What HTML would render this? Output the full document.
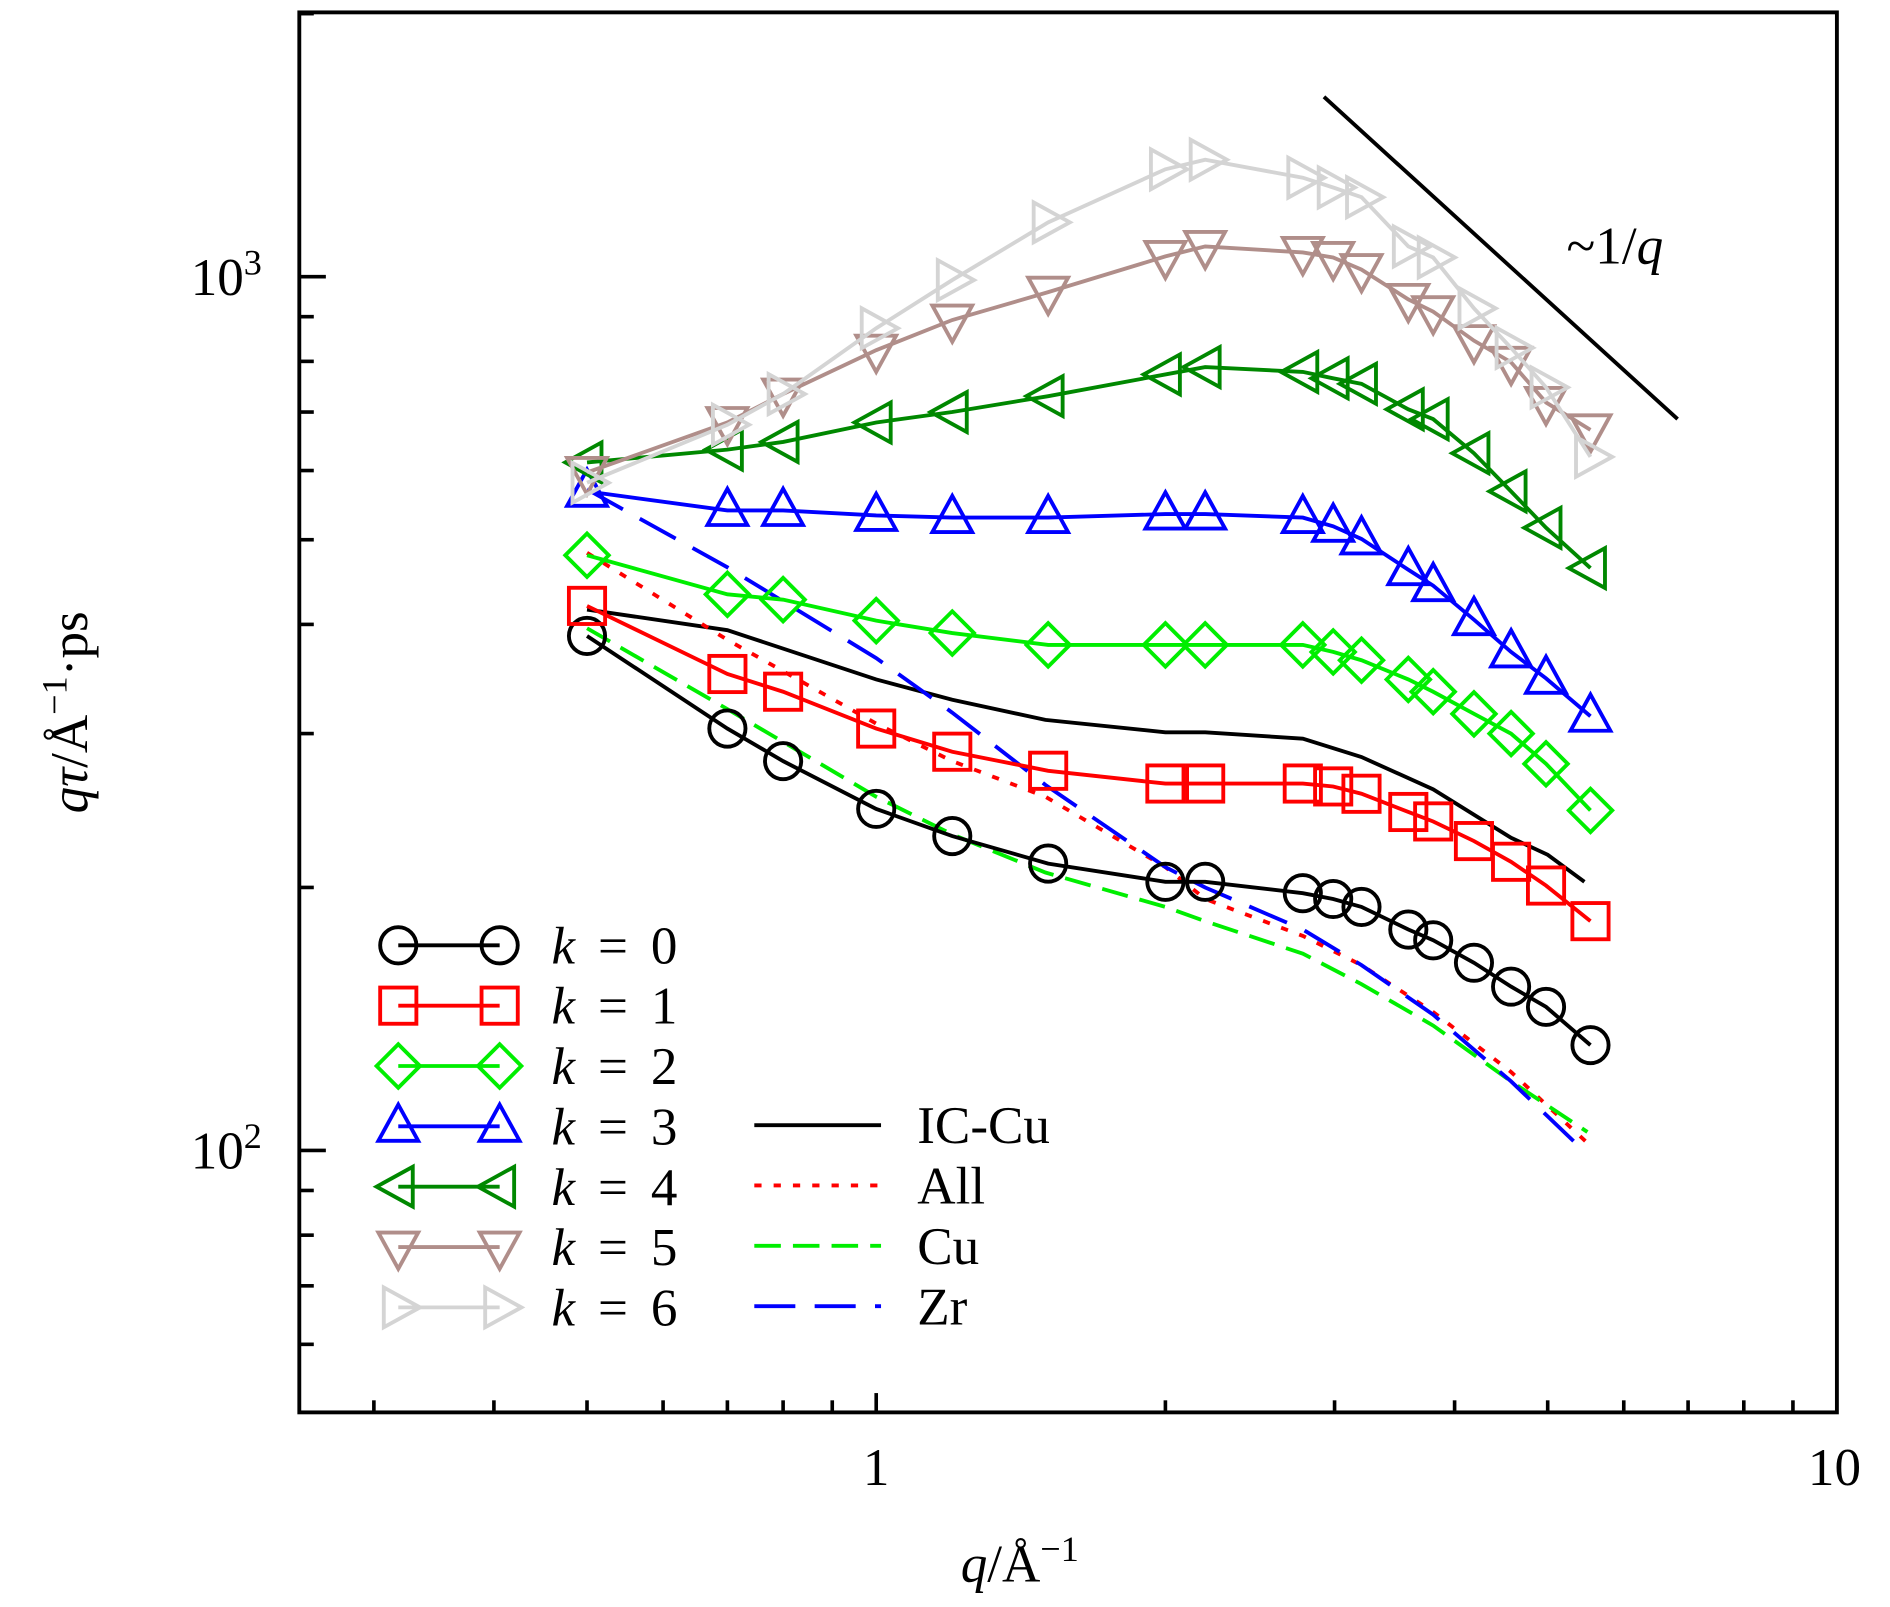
<!DOCTYPE html>
<html><head><meta charset="utf-8"><style>
html,body{margin:0;padding:0;background:#fff}
svg{display:block}
text{font-family:"Liberation Serif",serif;fill:#000}
</style></head><body>
<svg id="chart" width="1890" height="1607" viewBox="0 0 1566 1331" xmlns="http://www.w3.org/2000/svg">
<rect x="0" y="0" width="1566" height="1331" fill="#fff"/>
<g id="ticks"></g>
<g id="series"></g>
<rect x="248" y="10" width="1274" height="1160" fill="none" stroke="#000" stroke-width="3.2"/>
<line x1="1097" y1="80" x2="1390" y2="347" stroke="#000" stroke-width="3.2"/>
<text x="1298" y="218" font-size="44">~1/<tspan font-style="italic">q</tspan></text>
<text x="158" y="244" font-size="44">10<tspan dy="-17" font-size="30">3</tspan></text>
<text x="158" y="968" font-size="44">10<tspan dy="-17" font-size="30">2</tspan></text>
<text x="726" y="1230" font-size="44" text-anchor="middle">1</text>
<text x="1520" y="1230" font-size="44" text-anchor="middle">10</text>
<text x="845" y="1310" font-size="44" text-anchor="middle"><tspan font-style="italic">q</tspan>/Å<tspan dy="-17" font-size="30">−1</tspan></text>
<text transform="translate(72,590) rotate(-90)" font-size="44" text-anchor="middle"><tspan font-style="italic">qτ</tspan>/Å<tspan dy="-17" font-size="30">−1</tspan><tspan dy="17">·ps</tspan></text>
<g id="legend"></g>
</svg>
<script>
const qPts = [0.5,0.7,0.8,1.0,1.2,1.51,2.0,2.2,2.78,2.99,3.2,3.58,3.8,4.19,4.58,4.98,5.54];
const k0 = [388,304,279,246,229,213,203,203,197,194,190,179,174,164,154,146,132];
const k1 = [420,351,335,304,286,272,263,263,263,261,256,244,238,226,214,201,183];
const k2 = [480,433,427,404,391,379,379,379,379,372,364,346,335,316,300,277,245];
const k3 = [568,540,540,533,530,530,535,535,530,518,501,462,443,405,372,347,314];
const k4 = [613,634,647,681,700,730,773,788,778,765,754,705,687,628,568,516,464];
const k5 = [597,681,734,824,892,960,1055,1083,1066,1052,1019,942,912,845,798,718,668];
const k6 = [581,677,734,873,991,1154,1327,1361,1298,1265,1233,1083,1052,920,829,747,622];
const qLine = [0.5,0.7,1.0,1.2,1.5,2.0,2.2,2.78,3.2,3.8,4.58,5.0,5.46];
const icCu = [416,394,346,328,311,301,301,296,282,259,228,218,203];
const qLine2 = [0.5,0.7,1.0,1.2,1.5,2.0,2.2,2.78,3.2,3.8,4.58,5.5];
const allV = [483,384,308,279,254,211,194,176,163,144,123,102];
const cuV = [396,320,254,230,208,190,183,168,155,139,120,105];
const zrV = [571,465,366,317,262,211,200,179,163,143,120,99];

const NS="http://www.w3.org/2000/svg";
function X(q){return 726+796*Math.log10(q);}
function Y(v){return 229+724*(3-Math.log10(v));}
function mk(tag,attrs,parent){const e=document.createElementNS(NS,tag);for(const k in attrs)e.setAttribute(k,attrs[k]);parent.appendChild(e);return e;}

const tg=document.getElementById('ticks');
for(let d=-1;d<=0;d++)for(let m=1;m<=9;m++){const q=m*Math.pow(10,d);if(q<0.26)continue;const x=X(q);const L=m===1?16:10;
 const t=mk('line',{x1:x,y1:1170,x2:x,y2:1170-L,stroke:'#000','stroke-width':3},tg);
 
 }
for(let d=1;d<=3;d++)for(let m=1;m<=9;m++){const v=m*Math.pow(10,d);if(v<51||v>2000)continue;const y=Y(v);const L=m===1?22:12;
 const t=mk('line',{x1:248,y1:y,x2:248+L,y2:y,stroke:'#000','stroke-width':3},tg);
 
 }

const sg=document.getElementById('series');
function poly(xs,ys,color,dash,name){const p=xs.map((q,i)=>X(q).toFixed(1)+','+Y(ys[i]).toFixed(1)).join(' ');
 const e=mk('polyline',{points:p,fill:'none',stroke:color,'stroke-width':3.2},sg);if(dash)e.setAttribute('stroke-dasharray',dash);
 
 }
function marker(g,x,y,type,color,name){const r=15;let e;
 if(type==='o')e=mk('circle',{cx:x,cy:y,r:r},g);
 else if(type==='s')e=mk('rect',{x:x-r,y:y-r,width:2*r,height:2*r},g);
 else{let pts;
  if(type==='d')pts=[[0,-r*1.2],[r*1.2,0],[0,r*1.2],[-r*1.2,0]];
  if(type==='^')pts=[[0,-r*1.2],[r*1.1,r*0.8],[-r*1.1,r*0.8]];
  if(type==='v')pts=[[0,r*1.2],[r*1.1,-r*0.8],[-r*1.1,-r*0.8]];
  if(type==='<')pts=[[-r*1.2,0],[r*0.8,r*1.1],[r*0.8,-r*1.1]];
  if(type==='>')pts=[[r*1.2,0],[-r*0.8,r*1.1],[-r*0.8,-r*1.1]];
  e=mk('polygon',{points:pts.map(p=>(x+p[0])+','+(y+p[1])).join(' ')},g);}
 e.setAttribute('fill','none');e.setAttribute('stroke',color);e.setAttribute('stroke-width',3.2);
 
 }
const ks=[[k0,'#000','o'],[k1,'#f00','s'],[k2,'#0e0','d'],[k3,'#00f','^'],[k4,'#080','<'],[k5,'#b08e8a','v'],[k6,'#d4d4d4','>']];
poly(qLine,icCu,'#000',null,'line-ic-cu');
poly(qLine2,allV,'#f00','6 10','line-all');
poly(qLine2,cuV,'#0e0','22 10','line-cu');
poly(qLine2,zrV,'#00f','34 16','line-zr');
ks.forEach((s,i)=>{poly(qPts,s[0],s[1],null,'line-k'+i);const g=mk('g',{},sg);
 
 
 qPts.forEach((q,j)=>marker(g,X(q),Y(s[0][j]),s[2],s[1],'point-k'+i));});

const lg=document.getElementById('legend');
ks.forEach((s,i)=>{const y=783+i*50;const g=mk('g',{},lg);
 
 
 mk('line',{x1:330,y1:y,x2:414,y2:y,stroke:s[1],'stroke-width':3.2},g);
 marker(g,330,y,s[2],s[1],'legend-marker');marker(g,414,y,s[2],s[1],'legend-marker');
 const t=mk('text',{x:457,y:y+15,'font-size':44,'word-spacing':'8'},g);t.innerHTML='<tspan font-style="italic">k</tspan> = '+i;});
[['IC-Cu','#000',null],['All','#f00','6 10'],['Cu','#0e0','22 10'],['Zr','#00f','34 16']].forEach((s,i)=>{const y=932+i*50;const g=mk('g',{},lg);
 
 
 const l=mk('line',{x1:625,y1:y,x2:730,y2:y,stroke:s[1],'stroke-width':3.2},g);if(s[2])l.setAttribute('stroke-dasharray',s[2]);
 const t=mk('text',{x:760,y:y+15,'font-size':44},g);t.textContent=s[0];});
</script>
</body></html>
